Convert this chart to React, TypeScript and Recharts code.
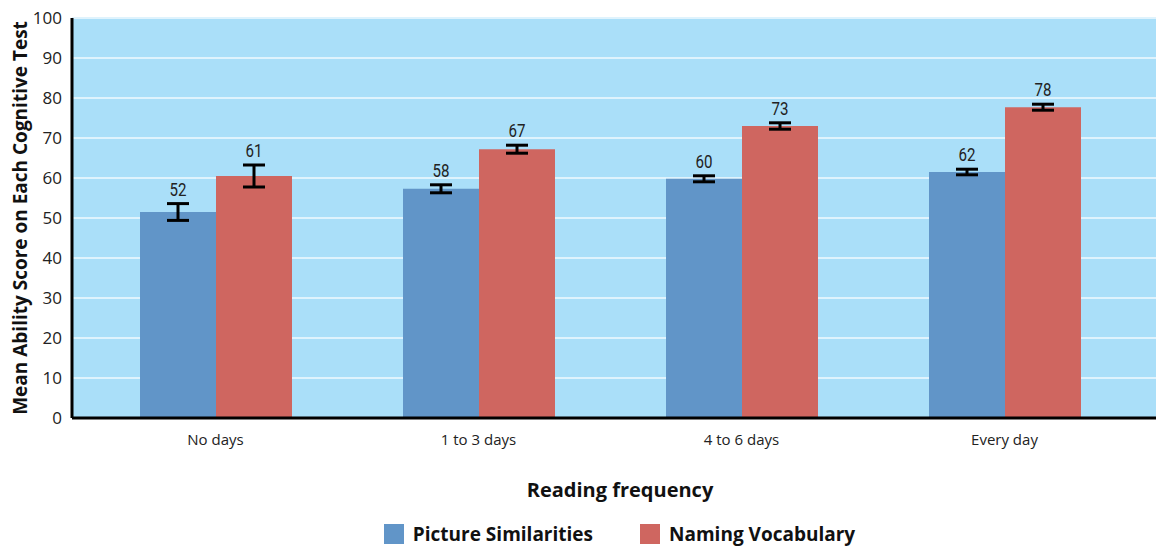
import React from 'react';
import { BarChart, Bar, XAxis, YAxis, CartesianGrid, ErrorBar, LabelList, Legend } from 'recharts';

const categories = ['No days', '1 to 3 days', '4 to 6 days', 'Every day'];
const pictureSimilarities = [51.5, 57.3, 59.8, 61.5];
const namingVocabulary = [60.5, 67.2, 73.0, 77.7];
const pictureErrors = [2.1, 1.0, 0.75, 0.7];
const namingErrors = [2.75, 1.0, 0.8, 0.75];
const pictureLabels = [52, 58, 60, 62];
const namingLabels = [61, 67, 73, 78];
const yTicks = [0, 10, 20, 30, 40, 50, 60, 70, 80, 90, 100];

const BLUE = '#6195c8';
const RED = '#cf6660';
const BG = '#aadff9';

const data = categories.map((c, i) => ({
  category: c,
  ps: pictureSimilarities[i],
  nv: namingVocabulary[i],
  psErr: pictureErrors[i],
  nvErr: namingErrors[i],
}));

const makeLabel = (labels: number[], errs: number[]) => (props: any) => {
  const { x, y, width, height, value, index } = props;
  const ppu = height / value;
  const errTop = y - errs[index] * ppu;
  const cx = x + width / 2;
  const by = errTop - 8;
  return (
    <text
      transform={`translate(${cx}, ${by}) scale(0.84, 1)`}
      x={0}
      y={0}
      textAnchor="middle"
      fontSize={18}
      fill="#222"
      fontFamily="Roboto, sans-serif"
    >
      {labels[index]}
    </text>
  );
};

const LegendContent = () => (
  <div
    style={{
      height: 26,
      paddingTop: 16,
      display: 'flex',
      justifyContent: 'center',
      alignItems: 'center',
      gap: 47,
      fontFamily: "'Open Sans', sans-serif",
      fontWeight: 700,
      fontSize: 19,
      lineHeight: '26px',
      color: '#111',
      paddingLeft: 83,
    }}
  >
    <div style={{ display: 'flex', alignItems: 'center' }}>
      <span style={{ width: 20, height: 20, background: BLUE, display: 'inline-block', marginRight: 9 }} />
      Picture Similarities
    </div>
    <div style={{ display: 'flex', alignItems: 'center' }}>
      <span style={{ width: 20, height: 20, background: RED, display: 'inline-block', marginRight: 9 }} />
      Naming Vocabulary
    </div>
  </div>
);

export default function App() {
  return (
    <div style={{ position: 'absolute', left: 0, top: 0, background: '#fff' }}>
      <BarChart
        width={1156}
        height={547}
        data={data}
        margin={{ top: 18, right: 0, left: 0, bottom: 0 }}
        barGap={0}
        barSize={76}
      >
        <CartesianGrid
          vertical={false}
          fill={BG}
          fillOpacity={1}
          stroke="#dff3fd"
          strokeWidth={2}
        />
        <XAxis
          dataKey="category"
          height={87}
          padding={{ left: 12, right: 20 }}
          axisLine={{ stroke: '#000', strokeWidth: 3 }}
          tickLine={false}
          tickSize={6}
          tickMargin={10}
          tick={{ fontSize: 15, fill: '#222', fontFamily: "'Open Sans', sans-serif" }}
          label={(props: any) => {
            const vb = props.viewBox;
            return (
              <text
                x={vb.x + vb.width / 2 + 6}
                y={vb.y + 79}
                textAnchor="middle"
                fontSize={20}
                fontWeight={700}
                fill="#111"
                fontFamily="'Open Sans', sans-serif"
              >
                Reading frequency
              </text>
            );
          }}
        />
        <YAxis
          width={72}
          domain={[0, 100]}
          ticks={yTicks}
          interval={0}
          axisLine={{ stroke: '#000', strokeWidth: 3 }}
          tickLine={false}
          tickSize={6}
          tickMargin={4}
          tick={{ fontSize: 17, fill: '#222', fontFamily: "'Open Sans', sans-serif" }}
          label={(props: any) => {
            const vb = props.viewBox;
            const cy = vb.y + vb.height / 2;
            return (
              <text
                x={27}
                y={cy}
                transform={`rotate(-90, 27, ${cy})`}
                textAnchor="middle"
                fontSize={19}
                fontWeight={700}
                fill="#111"
                fontFamily="'Open Sans', sans-serif"
              >
                Mean Ability Score on Each Cognitive Test
              </text>
            );
          }}
        />
        <Legend verticalAlign="bottom" content={<LegendContent />} />
        <Bar dataKey="ps" name="Picture Similarities" fill={BLUE} isAnimationActive={false}>
          <ErrorBar dataKey="psErr" width={11} stroke="#000" strokeWidth={3} direction="y" />
          <LabelList dataKey="ps" content={makeLabel(pictureLabels, pictureErrors)} />
        </Bar>
        <Bar dataKey="nv" name="Naming Vocabulary" fill={RED} isAnimationActive={false}>
          <ErrorBar dataKey="nvErr" width={11} stroke="#000" strokeWidth={3} direction="y" />
          <LabelList dataKey="nv" content={makeLabel(namingLabels, namingErrors)} />
        </Bar>
      </BarChart>
    </div>
  );
}
